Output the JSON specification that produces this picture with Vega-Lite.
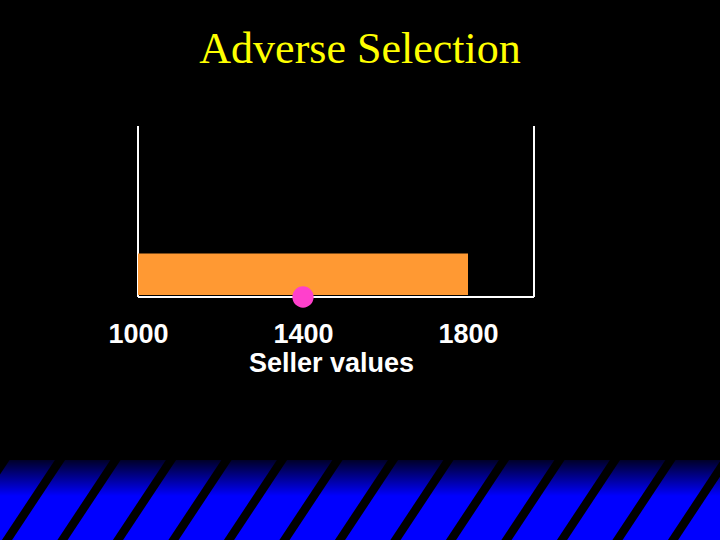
{
  "$schema": "https://vega.github.io/schema/vega-lite/v6.json",
  "background": "black",
  "padding": {"left": 0, "right": 0, "top": 28, "bottom": 0},
  "autosize": {"type": "pad"},
  "title": {"text": "Adverse Selection", "font": "Liberation Serif", "fontSize": 44, "fontWeight": "normal", "color": "#ffff00", "anchor": "middle", "baseline": "alphabetic", "offset": 18},
  "datasets": {
    "frame": [
      {"side": "left", "x": 1000, "x2": 1000, "y": 0, "y2": 1},
      {"side": "right", "x": 1960, "x2": 1960, "y": 0, "y2": 1},
      {"side": "base", "x": 1000, "x2": 1960, "y": 0, "y2": 0}
    ],
    "range": [{"low": 1000, "high": 1800, "top": 0.255, "bottom": 0.012}],
    "seller": [{"value": 1400, "y": 0}],
    "band": [{"x": 0, "x2": 13, "y": 0, "y2": 1}],
    "stripes": [
      {"k": -1, "top": 0.1765, "foot": -0.9695, "upper": 1.1, "lower": -0.1},
      {"k": 0, "top": 1.1765, "foot": 0.0305, "upper": 1.1, "lower": -0.1},
      {"k": 1, "top": 2.1765, "foot": 1.0305, "upper": 1.1, "lower": -0.1},
      {"k": 2, "top": 3.1765, "foot": 2.0305, "upper": 1.1, "lower": -0.1},
      {"k": 3, "top": 4.1765, "foot": 3.0305, "upper": 1.1, "lower": -0.1},
      {"k": 4, "top": 5.1765, "foot": 4.0305, "upper": 1.1, "lower": -0.1},
      {"k": 5, "top": 6.1765, "foot": 5.0305, "upper": 1.1, "lower": -0.1},
      {"k": 6, "top": 7.1765, "foot": 6.0305, "upper": 1.1, "lower": -0.1},
      {"k": 7, "top": 8.1765, "foot": 7.0305, "upper": 1.1, "lower": -0.1},
      {"k": 8, "top": 9.1765, "foot": 8.0305, "upper": 1.1, "lower": -0.1},
      {"k": 9, "top": 10.1765, "foot": 9.0305, "upper": 1.1, "lower": -0.1},
      {"k": 10, "top": 11.1765, "foot": 10.0305, "upper": 1.1, "lower": -0.1},
      {"k": 11, "top": 12.1765, "foot": 11.0305, "upper": 1.1, "lower": -0.1},
      {"k": 12, "top": 13.1765, "foot": 12.0305, "upper": 1.1, "lower": -0.1},
      {"k": 13, "top": 14.1765, "foot": 13.0305, "upper": 1.1, "lower": -0.1}
    ]
  },
  "spacing": 84,
  "resolve": {"scale": {"x": "independent", "y": "independent"}},
  "vconcat": [
    {
      "width": 720,
      "height": 171,
      "layer": [
        {
          "data": {"name": "frame"},
          "mark": {"type": "rule", "color": "white", "strokeWidth": 2},
          "encoding": {
            "x": {
              "field": "x", "type": "quantitative", "title": "Seller values",
              "scale": {"domain": [665.45, 2410.9], "nice": false, "zero": false},
              "axis": {
                "values": [1000, 1400, 1800], "format": "d", "domain": false, "ticks": false, "tickSize": 0, "grid": false,
                "labelFont": "Liberation Sans", "labelFontWeight": "bold", "labelFontSize": 27, "labelColor": "white",
                "labelBaseline": "alphabetic", "labelPadding": 45, "labelFlush": false, "labelOverlap": false,
                "title": "Seller values", "titleFont": "Liberation Sans", "titleFontWeight": "bold", "titleFontSize": 27,
                "titleColor": "white", "titleX": 331, "titleY": 74, "titleBaseline": "alphabetic", "titleAlign": "center"
              }
            },
            "x2": {"field": "x2"},
            "y": {"field": "y", "type": "quantitative", "scale": {"domain": [0, 1], "nice": false, "zero": false}, "axis": null},
            "y2": {"field": "y2"}
          }
        },
        {
          "data": {"name": "range"},
          "mark": {"type": "rect", "color": "#ff9933"},
          "encoding": {
            "x": {"field": "low", "type": "quantitative", "title": "Seller values"},
            "x2": {"field": "high"},
            "y": {"field": "top", "type": "quantitative"},
            "y2": {"field": "bottom"}
          }
        },
        {
          "data": {"name": "seller"},
          "mark": {"type": "point", "filled": true, "color": "#ff40cc", "size": 452, "opacity": 1},
          "encoding": {
            "x": {"field": "value", "type": "quantitative", "title": "Seller values"},
            "y": {"field": "y", "type": "quantitative"}
          }
        }
      ]
    },
    {
      "width": 720,
      "height": 80,
      "layer": [
        {
          "data": {"name": "band"},
          "mark": {"type": "rect", "clip": true, "color": {"gradient": "linear", "x1": 0, "y1": 0, "x2": 0, "y2": 1, "stops": [{"offset": 0, "color": "#000028"}, {"offset": 0.45, "color": "#0000ff"}, {"offset": 1, "color": "#0000ff"}]}},
          "encoding": {
            "x": {"field": "x", "type": "quantitative", "scale": {"domain": [0, 12.973], "nice": false, "zero": false}, "axis": null},
            "x2": {"field": "x2"},
            "y": {"field": "y", "type": "quantitative", "scale": {"domain": [0, 1], "nice": false, "zero": false}, "axis": null},
            "y2": {"field": "y2"}
          }
        },
        {
          "data": {"name": "stripes"},
          "mark": {"type": "rule", "color": "black", "strokeWidth": 8.5, "clip": true},
          "encoding": {
            "x": {"field": "top", "type": "quantitative"},
            "x2": {"field": "foot"},
            "y": {"field": "upper", "type": "quantitative"},
            "y2": {"field": "lower"}
          }
        }
      ]
    }
  ],
  "config": {"view": {"stroke": null}}
}
